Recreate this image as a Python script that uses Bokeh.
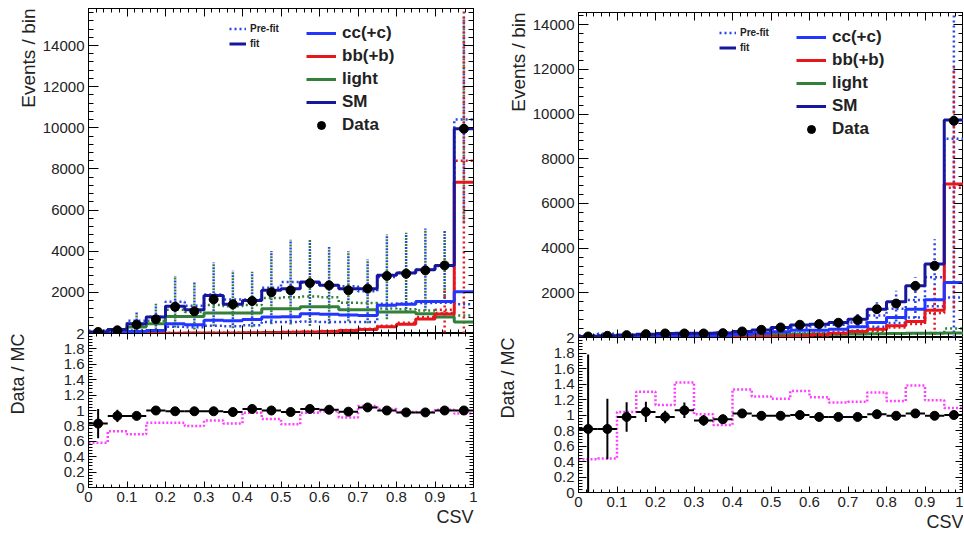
import numpy as np
from bokeh.plotting import figure
from bokeh.models import (Range1d, LinearAxis, FixedTicker, NumeralTickFormatter,
                          Legend, LegendItem, Title)
from bokeh.layouts import row, column
from bokeh.embed import file_html
from bokeh.resources import INLINE

# ---------------- data ----------------
BIN_EDGES = [0.00, 0.05, 0.10, 0.15, 0.20, 0.25, 0.30, 0.35, 0.40, 0.45, 0.50,
             0.55, 0.60, 0.65, 0.70, 0.75, 0.80, 0.85, 0.90, 0.95, 1.00]
X_TICKS = [0.0, 0.1, 0.2, 0.3, 0.4, 0.5, 0.6, 0.7, 0.8, 0.9, 1.0]
EVENT_TICKS = [2000, 4000, 6000, 8000, 10000, 12000, 14000]
RATIO_TICKS = [0.0, 0.2, 0.4, 0.6, 0.8, 1.0, 1.2, 1.4, 1.6, 1.8, 2.0]
LEGEND_SMALL = ["Pre-fit", "fit"]
LEGEND_MAIN = ["cc(+c)", "bb(+b)", "light", "SM", "Data"]
Y_TITLE = "Events / bin"
R_TITLE = "Data / MC"
X_TITLE = "CSV"

# left panel
data_L = [75, 155, 430, 690, 1300, 1080, 1660, 1420, 1580, 2000, 2100, 2450, 2340, 2100, 2180, 2800, 2910, 3070, 3310, 9950]
sm_L = [70, 190, 480, 800, 1320, 1160, 1850, 1420, 1610, 2100, 2180, 2500, 2340, 2180, 2180, 2830, 2940, 3100, 3310, 9950]
cc_L = [15, 40, 100, 150, 480, 420, 640, 620, 680, 800, 820, 960, 930, 900, 880, 1370, 1420, 1560, 1560, 2030]
bb_L = [0, 5, 10, 15, 15, 20, 25, 30, 40, 50, 60, 70, 100, 150, 200, 330, 450, 700, 950, 7350]
light_L = [55, 140, 320, 480, 830, 830, 1000, 1000, 1000, 1200, 1200, 1300, 1300, 1150, 1150, 1050, 1050, 960, 800, 560]
pre_sm_L = [130, 210, 620, 820, 1540, 1350, 1900, 1650, 1650, 2230, 2500, 2470, 2340, 2300, 2050, 2750, 2970, 3100, 3280, 10400]
pre_err_L = [40, 90, 430, 630, 1250, 1150, 1550, 1400, 1350, 1780, 2060, 2100, 1870, 1700, 1550, 2060, 1930, 2000, 1750, 5000]
pre_cc_L = [20, 35, 150, 150, 330, 300, 380, 350, 400, 560, 560, 580, 560, 560, 560, 1450, 1460, 1480, 1500, 1420]
pre_bb_L = [0, 5, 10, 15, 20, 25, 30, 35, 45, 60, 70, 80, 120, 170, 230, 380, 520, 800, 1150, 8400]
pre_bb_err_L = [0, 0, 0, 0, 0, 0, 0, 0, 0, 0, 0, 0, 0, 0, 0, 0, 0, 0, 1100, 8400]
pre_light_L = [90, 170, 420, 620, 1150, 1050, 1380, 1330, 1380, 1720, 1760, 1800, 1760, 1500, 1480, 1220, 1180, 1120, 1000, 880]
ratio_L = [0.83, 0.93, 0.93, 1.00, 0.99, 0.99, 0.99, 0.98, 1.02, 1.00, 0.98, 1.02, 1.01, 0.985, 1.04, 1.00, 0.975, 0.975, 1.00, 1.00]
ratio_err_L = [0.19, 0.08, 0.05, 0.03, 0.02, 0.02, 0.02, 0.02, 0.02, 0.02, 0.02, 0.02, 0.02, 0.02, 0.02, 0.015, 0.015, 0.015, 0.015, 0.01]
prefit_ratio_L = [0.58, 0.73, 0.69, 0.84, 0.84, 0.80, 0.87, 0.83, 0.97, 0.89, 0.82, 0.97, 0.99, 0.91, 1.06, 1.02, 0.98, 0.98, 1.01, 0.96]

# right panel
data_R = [45, 75, 105, 150, 180, 180, 180, 195, 270, 345, 450, 570, 600, 660, 780, 1270, 1520, 2310, 3210, 9700]
sm_R = [45, 75, 110, 150, 180, 185, 190, 205, 270, 340, 450, 560, 597, 672, 822, 1270, 1600, 2315, 3287, 9735]
cc_R = [15, 30, 45, 70, 90, 90, 85, 95, 140, 190, 260, 320, 330, 373, 478, 672, 896, 1270, 1688, 2463]
bb_R = [0, 0, 5, 5, 5, 5, 10, 10, 20, 30, 50, 80, 120, 194, 269, 373, 523, 717, 1225, 6870]
light_R = [25, 40, 55, 70, 80, 85, 90, 95, 100, 110, 120, 130, 140, 150, 160, 170, 180, 190, 190, 200]
pre_sm_R = [105, 170, 100, 115, 160, 127, 178, 224, 203, 278, 372, 435, 488, 569, 667, 984, 1288, 1674, 2697, 8899]
pre_err_R = [20, 30, 30, 40, 50, 50, 60, 70, 80, 100, 120, 150, 170, 200, 380, 590, 800, 1020, 1700, 8900]
pre_cc_R = [30, 50, 40, 50, 70, 60, 75, 95, 90, 120, 160, 190, 210, 250, 300, 480, 650, 900, 1400, 1790]
pre_bb_R = [0, 0, 5, 5, 5, 5, 10, 10, 15, 25, 40, 60, 90, 130, 190, 300, 450, 600, 1100, 6700]
pre_bb_err_R = [0, 0, 0, 0, 0, 0, 0, 0, 0, 0, 0, 0, 0, 0, 0, 0, 0, 0, 1200, 5400]
pre_light_R = [70, 115, 55, 60, 80, 60, 90, 115, 95, 130, 170, 180, 185, 190, 180, 200, 190, 175, 200, 400]
ratio_R = [0.82, 0.82, 0.975, 1.04, 0.975, 1.06, 0.93, 0.945, 1.02, 0.99, 0.99, 1.00, 0.975, 0.975, 0.975, 1.01, 0.99, 1.02, 0.99, 1.00]
ratio_err_R = [0.96, 0.39, 0.19, 0.13, 0.08, 0.10, 0.07, 0.06, 0.05, 0.04, 0.03, 0.03, 0.03, 0.03, 0.02, 0.02, 0.02, 0.02, 0.02, 0.01]
prefit_ratio_R = [0.43, 0.44, 1.04, 1.30, 1.13, 1.42, 1.01, 0.87, 1.33, 1.24, 1.21, 1.31, 1.23, 1.16, 1.17, 1.29, 1.18, 1.38, 1.19, 1.09]

# ---------------- styles ----------------
FONT = "Liberation Sans"
TEXT = "#222222"
C_CC = "#2336ff"
C_BB = "#e5161c"
C_LIGHT = "#33803a"
C_SM = "#17179e"
C_PRE = "#2a44e6"
C_MAG = "#ff40ff"
FW = 385
FH_TOP = 325
DOT = "2 3"

edges = np.array(BIN_EDGES)
centers = (edges[:-1] + edges[1:]) / 2
x_minor = [round(0.02 * i, 2) for i in range(51)]
r_minor = [round(0.04 * i, 2) for i in range(51)]


def ext(v):
    return list(v) + [v[-1]]


def axis_style(ax, major_in, minor_in, ticks):
    ax.major_tick_out = 0
    ax.minor_tick_out = 0
    ax.major_tick_in = major_in
    ax.minor_tick_in = minor_in
    ax.axis_line_color = "black"
    ax.major_tick_line_color = "black"
    ax.minor_tick_line_color = "black"
    ax.major_label_text_font = FONT
    ax.major_label_text_color = TEXT
    ax.major_label_text_font_size = "15px"
    if ticks is None:
        ax.major_label_standoff = 4
    else:
        # tick marks only, no tick labels (ROOT style mirrored axis)
        ax.major_label_overrides = {t: "" for t in ticks}
        ax.major_label_standoff = 0


def base_fig(fh, yr, left, right, top, bottom):
    p = figure(frame_width=FW, frame_height=fh, x_range=Range1d(0, 1), y_range=yr,
               output_backend="svg", toolbar_location=None,
               min_border_left=left, min_border_right=right,
               min_border_top=top, min_border_bottom=bottom)
    p.grid.visible = False
    p.outline_line_color = "black"
    p.background_fill_color = "white"
    return p


def make_top(ymax, left, right, top, d, green_err):
    p = base_fig(FH_TOP, Range1d(0, ymax), left, right, top, 0)
    xt = FixedTicker(ticks=X_TICKS, minor_ticks=x_minor)
    yt = FixedTicker(ticks=EVENT_TICKS, minor_ticks=list(range(0, int(ymax) + 1, 400)))
    p.xaxis.ticker = xt
    p.yaxis.ticker = yt
    axis_style(p.xaxis[0], 8, 4, X_TICKS)
    axis_style(p.yaxis[0], 10, 5, None)
    ax_top = LinearAxis(ticker=xt)
    axis_style(ax_top, 8, 4, X_TICKS)
    p.add_layout(ax_top, "above")
    ax_right = LinearAxis(ticker=yt)
    axis_style(ax_right, 10, 5, EVENT_TICKS)
    p.add_layout(ax_right, "right")

    sm_pre = np.array(d["pre_sm"])
    err = np.array(d["pre_err"])
    bbp = np.array(d["pre_bb"])
    bbe = np.array(d["pre_bb_err"])
    # pre-fit uncertainty bars
    if green_err:
        p.segment(x0=centers, y0=sm_pre - err, x1=centers, y1=sm_pre + err,
                  line_color=C_LIGHT, line_width=2.5, line_dash="2 4")
        p.segment(x0=centers, y0=sm_pre - err, x1=centers, y1=sm_pre + err,
                  line_color=C_PRE, line_width=2.5, line_dash="2 4", line_dash_offset=3)
    else:
        p.segment(x0=centers, y0=sm_pre - err, x1=centers, y1=sm_pre + err,
                  line_color=C_PRE, line_width=2.5, line_dash=DOT)
    p.segment(x0=centers, y0=bbp - bbe, x1=centers, y1=bbp + bbe,
              line_color=C_BB, line_width=2.5, line_dash=DOT)
    # pre-fit histograms
    r_pre = p.step(x=BIN_EDGES, y=ext(d["pre_cc"]), mode="after", line_color=C_PRE, line_width=2.5, line_dash=DOT)
    p.step(x=BIN_EDGES, y=ext(d["pre_bb"]), mode="after", line_color=C_BB, line_width=2.5, line_dash=DOT)
    p.step(x=BIN_EDGES, y=ext(d["pre_light"]), mode="after", line_color=C_LIGHT, line_width=2.5, line_dash=DOT)
    p.step(x=BIN_EDGES, y=ext(d["pre_sm"]), mode="after", line_color=C_PRE, line_width=2.5, line_dash=DOT)
    # fitted histograms
    r_light = p.step(x=BIN_EDGES, y=ext(d["light"]), mode="after", line_color=C_LIGHT, line_width=3)
    r_bb = p.step(x=BIN_EDGES, y=ext(d["bb"]), mode="after", line_color=C_BB, line_width=3)
    r_cc = p.step(x=BIN_EDGES, y=ext(d["cc"]), mode="after", line_color=C_CC, line_width=3)
    r_sm = p.step(x=BIN_EDGES, y=ext(d["sm"]), mode="after", line_color=C_SM, line_width=3)
    r_data = p.scatter(x=centers, y=d["data"], size=9, marker="circle", color="black")

    small = Legend(items=[LegendItem(label=LEGEND_SMALL[0], renderers=[r_pre]),
                          LegendItem(label=LEGEND_SMALL[1], renderers=[r_sm])],
                   location=(141, 282), glyph_width=17, glyph_height=15, label_height=15,
                   spacing=0, padding=0, margin=0, label_standoff=4,
                   border_line_color=None, background_fill_alpha=0,
                   label_text_font=FONT, label_text_font_size="10px",
                   label_text_font_style="bold", label_text_color=TEXT)
    main = Legend(items=[LegendItem(label=LEGEND_MAIN[0], renderers=[r_cc]),
                         LegendItem(label=LEGEND_MAIN[1], renderers=[r_bb]),
                         LegendItem(label=LEGEND_MAIN[2], renderers=[r_light]),
                         LegendItem(label=LEGEND_MAIN[3], renderers=[r_sm]),
                         LegendItem(label=LEGEND_MAIN[4], renderers=[r_data])],
                  location=(218, 198), glyph_width=30, glyph_height=20, label_height=20,
                  spacing=3, padding=0, margin=0, label_standoff=6,
                  border_line_color=None, background_fill_alpha=0,
                  label_text_font=FONT, label_text_font_size="17px",
                  label_text_font_style="bold", label_text_color=TEXT)
    p.add_layout(small)
    p.add_layout(main)
    p.add_layout(Title(text=Y_TITLE, align="right", standoff=2, text_font=FONT,
                       text_font_size="19px", text_font_style="normal",
                       text_color=TEXT), "left")
    return p


def make_ratio(fh, left, right, bottom, ratio, rerr, pre_ratio):
    p = base_fig(fh, Range1d(0, 2), left, right, 8, bottom)
    xt = FixedTicker(ticks=X_TICKS, minor_ticks=x_minor)
    yt = FixedTicker(ticks=RATIO_TICKS, minor_ticks=r_minor)
    p.xaxis.ticker = xt
    p.yaxis.ticker = yt
    p.xaxis.formatter = NumeralTickFormatter(format="0.[0]")
    p.yaxis.formatter = NumeralTickFormatter(format="0.[0]")
    axis_style(p.xaxis[0], 6, 3, None)
    axis_style(p.yaxis[0], 8, 4, None)
    ax_top = LinearAxis(ticker=xt)
    axis_style(ax_top, 6, 3, X_TICKS)
    p.add_layout(ax_top, "above")
    ax_right = LinearAxis(ticker=yt)
    axis_style(ax_right, 8, 4, RATIO_TICKS)
    p.add_layout(ax_right, "right")
    p.border_fill_color = None
    p.margin = (-8, 0, 0, 0)

    r = np.array(ratio)
    e = np.array(rerr)
    p.step(x=BIN_EDGES, y=ext(pre_ratio), mode="after", line_color=C_MAG, line_width=2.5, line_dash="2 2")
    p.segment(x0=edges[:-1], y0=r, x1=edges[1:], y1=r, line_color="black", line_width=2)
    p.segment(x0=centers, y0=r - e, x1=centers, y1=r + e, line_color="black", line_width=2)
    p.scatter(x=centers, y=r, size=9, marker="circle", color="black")

    # spacer panel so that the ratio title sits far left, as in ROOT
    p.add_layout(Title(text=" ", standoff=9, text_font=FONT, text_font_size="18px"), "left")
    p.add_layout(Title(text=R_TITLE, align="right", vertical_align="top", standoff=0,
                       offset=0, text_font=FONT, text_font_size="18px",
                       text_font_style="normal", text_color=TEXT), "left")
    p.add_layout(Title(text=X_TITLE, align="right", standoff=0, text_font=FONT,
                       text_font_size="18px", text_font_style="normal",
                       text_color=TEXT), "below")
    return p


dL = dict(data=data_L, sm=sm_L, cc=cc_L, bb=bb_L, light=light_L, pre_sm=pre_sm_L,
          pre_err=pre_err_L, pre_cc=pre_cc_L, pre_bb=pre_bb_L, pre_bb_err=pre_bb_err_L,
          pre_light=pre_light_L)
dR = dict(data=data_R, sm=sm_R, cc=cc_R, bb=bb_R, light=light_R, pre_sm=pre_sm_R,
          pre_err=pre_err_R, pre_cc=pre_cc_R, pre_bb=pre_bb_R, pre_bb_err=pre_bb_err_R,
          pre_light=pre_light_R)

topL = make_top(15800, 88, 4, 8, dL, True)
ratL = make_ratio(154, 88, 4, 42, ratio_L, ratio_err_L, prefit_ratio_L)
topR = make_top(14550, 101, 0, 12, dR, False)
ratR = make_ratio(155, 101, 0, 38, ratio_R, ratio_err_R, prefit_ratio_R)

layout = row(column(topL, ratL), column(topR, ratR))
open("out.html", "w").write(file_html(layout, INLINE))
